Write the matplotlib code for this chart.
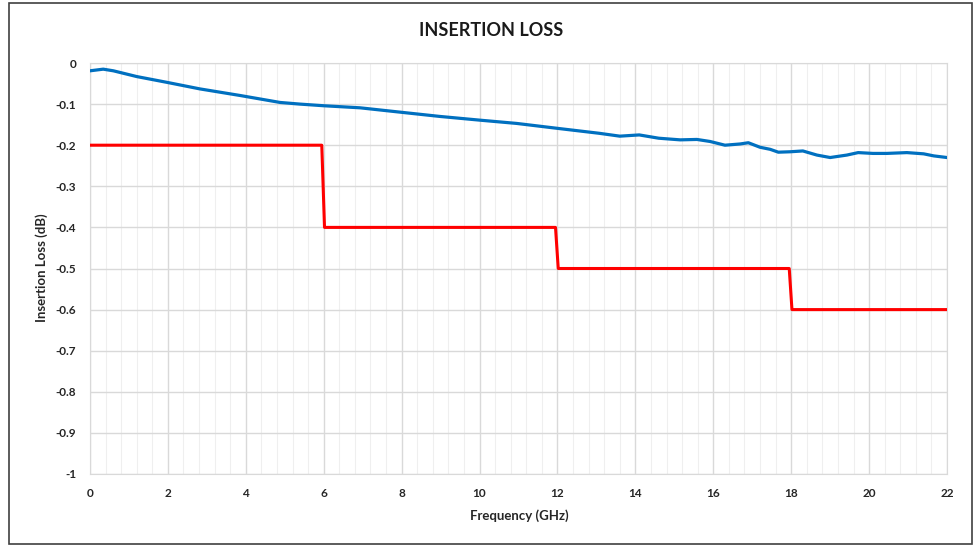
import matplotlib.pyplot as plt
from matplotlib.patches import Rectangle
from matplotlib.ticker import MultipleLocator, FuncFormatter

plt.rcParams['font.family'] = ['Lato', 'DejaVu Sans']

# measured insertion loss (GHz, dB)
freq = [0, 0.34, 0.6, 1.2, 1.97, 2.82, 3.85, 4.88, 5.39, 6.0, 6.93, 8.0, 8.98, 10.0,
        10.95, 12.0, 13.07, 13.6, 14.1, 14.6, 15.15, 15.58, 15.92, 16.3, 16.69, 16.9,
        17.2, 17.46, 17.67, 17.97, 18.3, 18.66, 19.0, 19.43, 19.72, 20.1, 20.45, 20.97,
        21.4, 21.66, 22.0]
loss = [-0.019, -0.015, -0.019, -0.033, -0.047, -0.063, -0.079, -0.096, -0.100, -0.104,
        -0.109, -0.120, -0.130, -0.139, -0.147, -0.159, -0.171, -0.178, -0.175, -0.183,
        -0.187, -0.186, -0.191, -0.200, -0.197, -0.194, -0.205, -0.210, -0.217, -0.216,
        -0.214, -0.224, -0.230, -0.224, -0.218, -0.220, -0.220, -0.218, -0.221, -0.226,
        -0.230]

# spec limit
spec_freq = [0, 5.95, 6.02, 11.95, 12.02, 17.95, 18.02, 22]
spec_loss = [-0.2, -0.2, -0.4, -0.4, -0.5, -0.5, -0.6, -0.6]

fig = plt.figure(figsize=(9.75, 5.46), dpi=100)
fig.patches.append(Rectangle((9 / 975, 1 - 544 / 546), 963 / 975, 541 / 546,
                             transform=fig.transFigure, fill=False,
                             edgecolor='#404040', linewidth=1.2))
ax = fig.add_axes([90 / 975, 1 - 474 / 546, 857 / 975, 411 / 546])

ax.plot(freq, loss, color='#0070C0', linewidth=2.3, zorder=3)
ax.plot(spec_freq, spec_loss, color='#FF0000', linewidth=2.2, zorder=3)

ax.set_xlim(0, 22)
ax.set_ylim(-1, 0)
ax.xaxis.set_major_locator(MultipleLocator(2))
ax.xaxis.set_minor_locator(MultipleLocator(0.4))
ax.yaxis.set_major_locator(MultipleLocator(0.1))
ax.yaxis.set_major_formatter(FuncFormatter(lambda v, p: '0' if abs(v) < 1e-9 else ('-1' if abs(v + 1) < 1e-9 else f'{v:.1f}')))

ax.grid(which='major', color='#d9d9d9', linewidth=1.0)
ax.grid(which='minor', axis='x', color='#efefef', linewidth=0.8)
ax.set_axisbelow(True)
ax.tick_params(which='both', length=0)
ax.tick_params(axis='y', pad=10, labelsize=8.5)
ax.tick_params(axis='x', pad=10, labelsize=8.5)
for lab in ax.get_xticklabels() + ax.get_yticklabels():
    lab.set_fontweight('bold')
    lab.set_color('#262626')
for s in ax.spines.values():
    s.set_color('#d9d9d9')

fig.text(491 / 975, 1 - 31 / 546, 'INSERTION LOSS', ha='center', va='center',
         fontsize=13, fontweight='bold', color='#1a1a1a')
fig.text(519 / 975, 1 - 516 / 546, 'Frequency (GHz)', ha='center', va='center',
         fontsize=9.5, fontweight='bold', color='#262626')
fig.text(42 / 975, 1 - 268 / 546, 'Insertion Loss (dB)', ha='center', va='center',
         rotation=90, fontsize=9.5, fontweight='bold', color='#262626')

fig.savefig('out.png', dpi=100)
